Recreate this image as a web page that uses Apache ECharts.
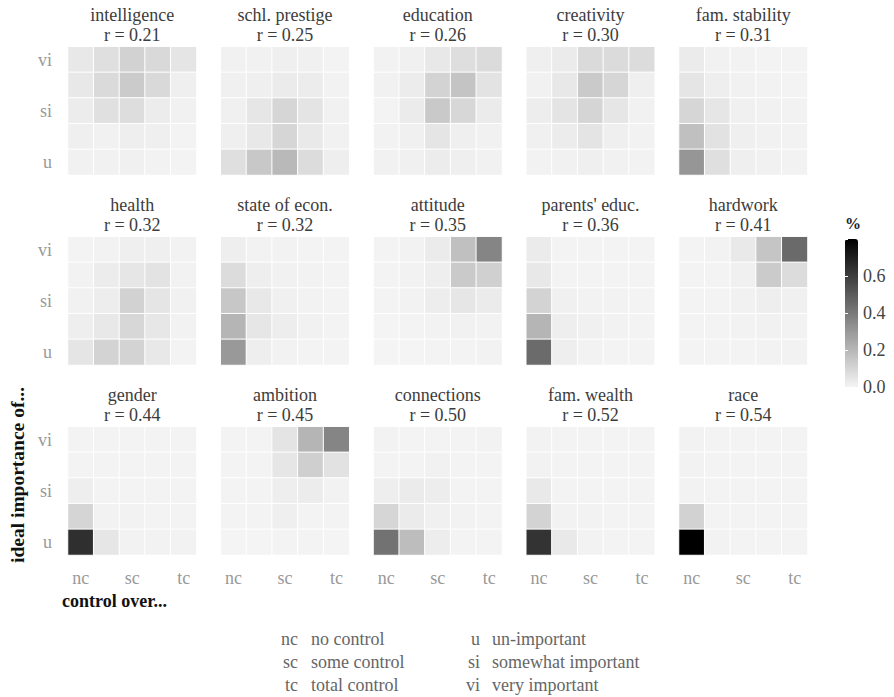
<!DOCTYPE html>
<html><head><meta charset="utf-8">
<script src="https://cdn.jsdelivr.net/npm/echarts@6/dist/echarts.min.js"></script>
<style>html,body{margin:0;padding:0;background:#fff}#c{width:894px;height:697px}</style>
</head><body><div id="c"></div>
<script>
// ---------- data ----------
const xCategories = ['nc', 'c2', 'sc', 'c4', 'tc'];
const yCategories = ['u', 'r2', 'si', 'r4', 'vi'];
const xTickLabels = ['nc', '', 'sc', '', 'tc'];
const yTickLabels = ['u', '', 'si', '', 'vi'];
const panelNames = ['intelligence', 'schl. prestige', 'education', 'creativity', 'fam. stability',
  'health', 'state of econ.', 'attitude', "parents' educ.", 'hardwork',
  'gender', 'ambition', 'connections', 'fam. wealth', 'race'];
const rValues = ['0.21', '0.25', '0.26', '0.30', '0.31', '0.32', '0.32', '0.35', '0.36', '0.41', '0.44', '0.45', '0.50', '0.52', '0.54'];
// each panel: rows from "vi" (top) down to "u" (bottom); columns nc .. tc
const intelligence = [
  [0.039, 0.069, 0.111, 0.089, 0.049],
  [0.039, 0.085, 0.134, 0.089, 0.016],
  [0.026, 0.066, 0.075, 0.026, 0.010],
  [0.016, 0.010, 0.020, 0.016, 0.003],
  [0.010, 0.010, 0.013, 0.007, 0.003]];
const schlPrestige = [
  [0.010, 0.010, 0.016, 0.013, 0.003],
  [0.013, 0.016, 0.030, 0.026, 0.007],
  [0.013, 0.046, 0.100, 0.052, 0.010],
  [0.016, 0.039, 0.100, 0.036, 0.010],
  [0.069, 0.144, 0.193, 0.079, 0.020]];
const education = [
  [0.007, 0.013, 0.039, 0.072, 0.082],
  [0.010, 0.026, 0.108, 0.157, 0.056],
  [0.003, 0.030, 0.141, 0.095, 0.030],
  [0.007, 0.013, 0.049, 0.016, 0.010],
  [0.010, 0.013, 0.026, 0.016, 0.010]];
const creativity = [
  [0.016, 0.030, 0.085, 0.082, 0.079],
  [0.010, 0.039, 0.138, 0.098, 0.016],
  [0.023, 0.052, 0.102, 0.046, 0.010],
  [0.013, 0.026, 0.052, 0.016, 0.007],
  [0.007, 0.010, 0.016, 0.010, 0.007]];
const famStability = [
  [0.030, 0.010, 0.007, 0.003, 0.003],
  [0.049, 0.020, 0.010, 0.007, 0.003],
  [0.098, 0.046, 0.013, 0.010, 0.007],
  [0.170, 0.059, 0.016, 0.010, 0.007],
  [0.308, 0.069, 0.016, 0.010, 0.007]];
const health = [
  [0.003, 0.007, 0.016, 0.016, 0.007],
  [0.007, 0.026, 0.046, 0.056, 0.007],
  [0.010, 0.023, 0.111, 0.049, 0.010],
  [0.020, 0.039, 0.095, 0.043, 0.007],
  [0.049, 0.108, 0.108, 0.039, 0.003]];
const stateOfEcon = [
  [0.020, 0.007, 0.007, 0.003, 0.003],
  [0.079, 0.020, 0.010, 0.007, 0.003],
  [0.148, 0.039, 0.013, 0.007, 0.003],
  [0.207, 0.046, 0.023, 0.010, 0.003],
  [0.298, 0.020, 0.007, 0.003, 0.003]];
const attitude = [
  [0.003, 0.007, 0.030, 0.170, 0.364],
  [0.003, 0.007, 0.020, 0.138, 0.118],
  [0.003, 0.007, 0.023, 0.046, 0.030],
  [0.000, 0.003, 0.007, 0.010, 0.007],
  [0.000, 0.000, 0.003, 0.003, 0.007]];
const parentsEduc = [
  [0.030, 0.003, 0.003, 0.003, 0.003],
  [0.039, 0.003, 0.003, 0.003, 0.003],
  [0.108, 0.013, 0.007, 0.007, 0.003],
  [0.207, 0.020, 0.013, 0.007, 0.003],
  [0.449, 0.020, 0.007, 0.003, 0.003]];
const hardwork = [
  [0.003, 0.007, 0.036, 0.154, 0.452],
  [0.003, 0.003, 0.013, 0.134, 0.079],
  [0.003, 0.003, 0.010, 0.020, 0.013],
  [0.003, 0.003, 0.007, 0.010, 0.007],
  [0.003, 0.003, 0.003, 0.007, 0.007]];
const gender = [
  [0.003, 0.003, 0.003, 0.003, 0.003],
  [0.003, 0.003, 0.003, 0.003, 0.003],
  [0.020, 0.003, 0.003, 0.003, 0.003],
  [0.102, 0.007, 0.007, 0.003, 0.003],
  [0.646, 0.046, 0.007, 0.007, 0.007]];
const ambition = [
  [0.003, 0.003, 0.052, 0.207, 0.364],
  [0.003, 0.003, 0.046, 0.121, 0.059],
  [0.003, 0.003, 0.020, 0.026, 0.007],
  [0.003, 0.003, 0.016, 0.003, 0.003],
  [0.000, 0.000, 0.003, 0.003, 0.000]];
const connections = [
  [0.007, 0.003, 0.003, 0.003, 0.007],
  [0.003, 0.003, 0.010, 0.003, 0.003],
  [0.020, 0.030, 0.023, 0.003, 0.003],
  [0.100, 0.030, 0.013, 0.007, 0.003],
  [0.426, 0.180, 0.023, 0.003, 0.003]];
const famWealth = [
  [0.007, 0.003, 0.003, 0.003, 0.003],
  [0.007, 0.003, 0.003, 0.003, 0.003],
  [0.036, 0.003, 0.003, 0.003, 0.003],
  [0.108, 0.007, 0.007, 0.003, 0.003],
  [0.633, 0.036, 0.007, 0.003, 0.003]];
const race = [
  [0.007, 0.003, 0.003, 0.003, 0.003],
  [0.007, 0.003, 0.003, 0.003, 0.003],
  [0.007, 0.003, 0.003, 0.003, 0.003],
  [0.111, 0.003, 0.003, 0.003, 0.003],
  [0.800, 0.007, 0.003, 0.003, 0.003]];
const colorMin = 0, colorMax = 0.8;
const colorbarInterval = 0.2;
const controlCodes = ['nc', 'sc', 'tc'];
const controlLabels = ['no control', 'some control', 'total control'];
const importanceCodes = ['u', 'si', 'vi'];
const importanceLabels = ['un-important', 'somewhat important', 'very important'];

// ---------- layout ----------
const panels = [intelligence, schlPrestige, education, creativity, famStability,
  health, stateOfEcon, attitude, parentsEduc, hardwork,
  gender, ambition, connections, famWealth, race];
const FONT = "'Liberation Serif', serif";
const colX = [68, 220.75, 373.5, 526.25, 679];
const rowY = [46.7, 236.7, 426.7];
const PW = 128.5, PH = 128.3;

function txt(x, y, text, size, color, align, weight, rotation) {
  const el = { type: 'text', x, y, silent: true,
    style: { text, fontSize: size, fontFamily: FONT, fontWeight: weight || 'normal', fill: color,
      textAlign: align, align: align, textVerticalAlign: 'middle', verticalAlign: 'middle' } };
  if (rotation) el.rotation = rotation;
  return el;
}

const grid = [], xAxis = [], yAxis = [], series = [], graphic = [];
panels.forEach((m, i) => {
  const c = i % 5, r = Math.floor(i / 5);
  grid.push({ left: colX[c], top: rowY[r], width: PW, height: PH, containLabel: false });
  xAxis.push({
    type: 'category', gridIndex: i, data: xCategories,
    axisLine: { show: false }, axisTick: { show: false }, splitLine: { show: false },
    axisLabel: { show: r === 2, interval: 0, margin: 14, color: '#999', fontSize: 18, fontFamily: FONT,
      formatter: (v, idx) => xTickLabels[idx] }
  });
  yAxis.push({
    type: 'category', gridIndex: i, data: yCategories,
    axisLine: { show: false }, axisTick: { show: false }, splitLine: { show: false },
    axisLabel: { show: c === 0, interval: 0, margin: 16, color: '#999', fontSize: 18, fontFamily: FONT,
      formatter: (v, idx) => yTickLabels[idx] }
  });
  const data = [];
  m.forEach((row, ri) => row.forEach((v, ci) => data.push([ci, 4 - ri, v])));
  series.push({
    type: 'heatmap', xAxisIndex: i, yAxisIndex: i, data,
    itemStyle: { borderColor: '#fff', borderWidth: 1 },
    emphasis: { disabled: true }, silent: true, progressive: 0
  });
  const cx = colX[c] + PW / 2;
  graphic.push(txt(cx, rowY[r] - 32, panelNames[i], 18, '#3c3c3c', 'center'));
  graphic.push(txt(cx, rowY[r] - 12, 'r = ' + rValues[i], 18, '#3c3c3c', 'center'));
});

// colorbar axis
const CB = { left: 845, top: 239, width: 13, height: 148 };
grid.push({ left: CB.left, top: CB.top, width: CB.width, height: CB.height });
xAxis.push({ type: 'value', gridIndex: 15, show: false });
yAxis.push({ type: 'value', gridIndex: 15, min: colorMin, max: colorMax, interval: colorbarInterval, position: 'right', z: 10,
  axisLine: { show: false }, splitLine: { show: false },
  axisTick: { show: true, inside: true, length: 3, lineStyle: { color: '#fff', width: 1 } },
  axisLabel: { showMaxLabel: false, margin: 5, color: '#444', fontSize: 18, fontFamily: FONT, padding: [5, 0, 0, 0], formatter: v => v.toFixed(1) } });
yAxis.push({ type: 'value', gridIndex: 15, min: colorMin, max: colorMax, interval: colorbarInterval, position: 'left', z: 10,
  axisLine: { show: false }, splitLine: { show: false },
  axisTick: { show: true, inside: true, length: 3, lineStyle: { color: '#fff', width: 1 } },
  axisLabel: { show: false } });

graphic.push(txt(845, 223, '%', 16, '#222', 'left', 'bold'));
graphic.push(txt(17, 563, 'ideal importance of...', 19.5, '#111', 'left', 'bold', Math.PI / 2));
graphic.push(txt(62, 601, 'control over...', 18, '#111', 'left', 'bold'));

const legendY = [639, 662, 685];
controlCodes.forEach((t, k) => {
  graphic.push(txt(298, legendY[k], t, 18, '#666', 'right'));
  graphic.push(txt(311, legendY[k], controlLabels[k], 18, '#666', 'left'));
});
importanceCodes.forEach((t, k) => {
  graphic.push(txt(480, legendY[k], t, 18, '#666', 'right'));
  graphic.push(txt(492, legendY[k], importanceLabels[k], 18, '#666', 'left'));
});

const chart = echarts.init(document.getElementById('c'), null, { renderer: 'svg' });
chart.setOption({
  animation: false,
  backgroundColor: '#fff',
  grid, xAxis, yAxis, series, graphic,
  visualMap: {
    type: 'continuous', min: colorMin, max: colorMax, seriesIndex: panels.map((_, i) => i),
    inRange: { color: ['#f4f4f4', '#000000'] },
    orient: 'vertical', left: CB.left, top: CB.top, itemWidth: CB.width, itemHeight: CB.height,
    calculable: false, text: null, padding: 0, hoverLink: false, showLabel: false
  }
});
</script>
</body></html>
